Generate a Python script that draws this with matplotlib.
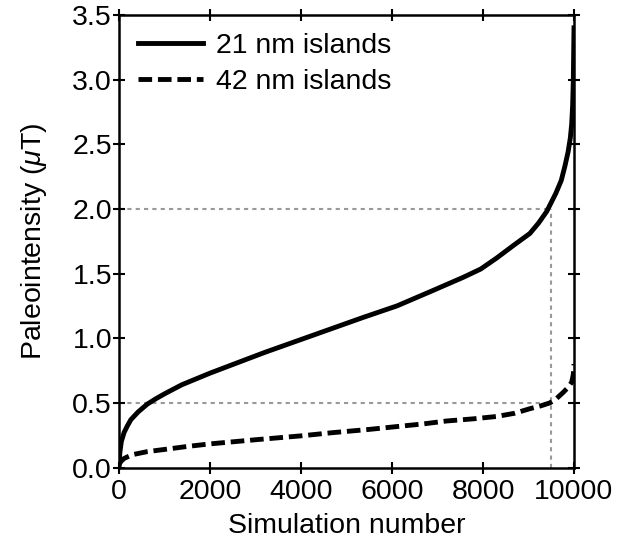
import matplotlib
matplotlib.use("Agg")
import matplotlib.pyplot as plt

# Data (sorted simulation outcomes)
sim_21 = [0, 8, 20, 50, 110, 180, 260, 420, 620, 800, 1000, 1380, 2000, 2600,
          3200, 4000, 4640, 5360, 6110, 6840, 7560, 7950, 8300, 8660, 9030,
          9220, 9400, 9600, 9720, 9800, 9870, 9920, 9950, 9970, 9985, 10000]
pi_21 = [0.0, 0.07, 0.12, 0.2, 0.27, 0.32, 0.37, 0.43, 0.49, 0.53, 0.57, 0.64,
         0.73, 0.81, 0.89, 0.99, 1.07, 1.16, 1.25, 1.36, 1.47, 1.535, 1.62, 1.715,
         1.81, 1.89, 1.98, 2.12, 2.22, 2.33, 2.44, 2.55, 2.66, 2.8, 3.0, 3.4]
sim_42 = [0, 20, 50, 110, 200, 300, 620, 1000, 1500, 2000, 3000, 4000, 4700,
          5500, 6110, 6700, 7200, 7800, 8300, 8700, 9030, 9270, 9470, 9620,
          9760, 9870, 9950, 9985, 10000]
pi_42 = [0.02, 0.035, 0.05, 0.07, 0.085, 0.1, 0.123, 0.14, 0.163, 0.183, 0.215,
         0.245, 0.27, 0.295, 0.317, 0.338, 0.36, 0.377, 0.395, 0.42, 0.455,
         0.477, 0.50, 0.535, 0.58, 0.62, 0.66, 0.72, 0.8]
labels = ["21 nm islands", "42 nm islands"]
ref_x = 9500
ref_y = [2.0, 0.5]
xticks = [0, 2000, 4000, 6000, 8000, 10000]
yticks = [0.0, 0.5, 1.0, 1.5, 2.0, 2.5, 3.0, 3.5]

plt.rcParams['font.family'] = ['Liberation Sans', 'DejaVu Sans']
plt.rcParams['mathtext.fontset'] = 'custom'
plt.rcParams['mathtext.it'] = 'Liberation Sans:italic'
plt.rcParams['mathtext.rm'] = 'Liberation Sans'

FS = 20.5

fig = plt.figure(figsize=(6.18, 5.52), dpi=100)
ax = fig.add_axes([0.1926, 0.153, 0.7362, 0.820])

# reference dotted lines
for yv in ref_y:
    ax.plot([0, ref_x], [yv, yv], color='#999999', lw=1.5, ls=(0, (2, 2)), zorder=1)
ax.plot([ref_x, ref_x], [0, max(ref_y)], color='#999999', lw=1.5, ls=(0, (2, 2)), zorder=1)

ax.plot(sim_21, pi_21, color='black', lw=3.5, label=labels[0], zorder=3)
ax.plot(sim_42, pi_42, color='black', lw=3.5, ls=(0, (2.8, 1.2)), label=labels[1], zorder=3)

ax.set_xlim(0, 10000)
ax.set_ylim(0, 3.5)
ax.set_xticks(xticks)
ax.set_xticklabels([str(t) for t in xticks])
ax.set_yticks(yticks)
ax.set_yticklabels([f"{t:.1f}" for t in yticks])

ax.tick_params(direction='inout', length=8, width=1.5, labelsize=FS,
               top=True, right=True)
ax.tick_params(axis='x', pad=4)
ax.tick_params(axis='y', pad=1)
for s in ax.spines.values():
    s.set_linewidth(1.8)

ax.set_xlabel("Simulation number", fontsize=FS, labelpad=6)
ax.set_ylabel(r"Paleointensity ($\mu$T)", fontsize=FS, labelpad=17)

ax.legend(loc='upper left', frameon=False, fontsize=FS, handlelength=2.3,
          handletextpad=0.45, labelspacing=0.32, borderaxespad=0.25,
          borderpad=0.4)

fig.savefig("out.png", dpi=100)
